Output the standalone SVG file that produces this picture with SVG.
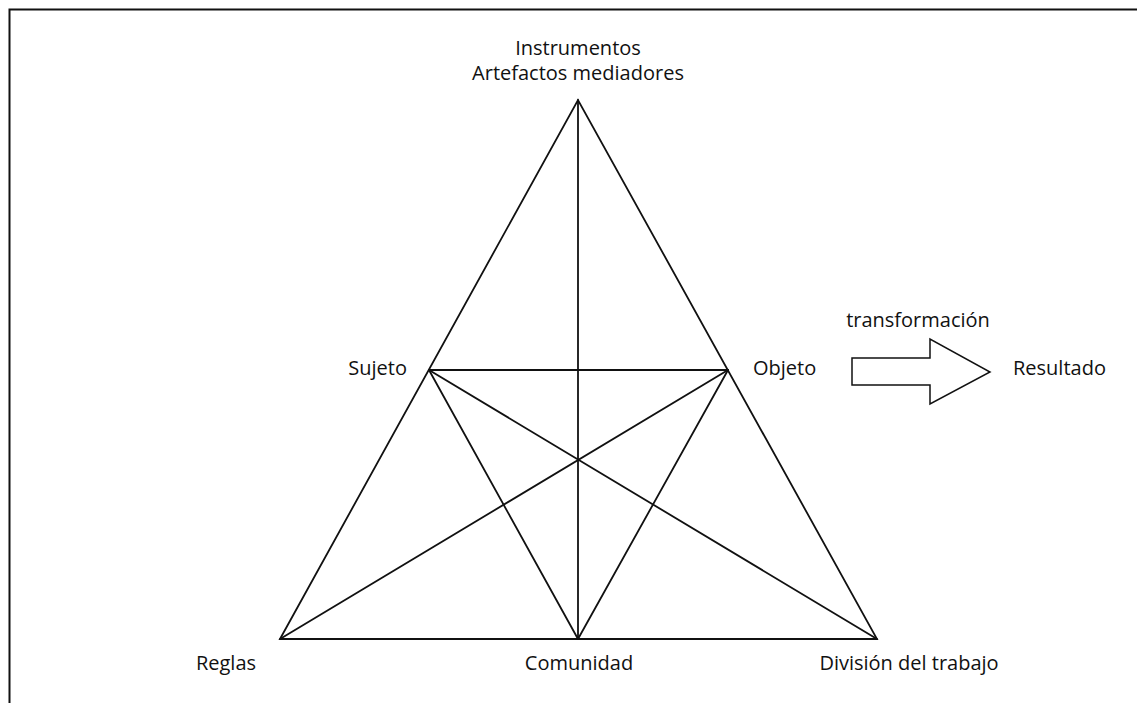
<svg xmlns="http://www.w3.org/2000/svg" width="1137" height="703" viewBox="0 0 1137 703">
<style>
.t{font-family:"Open Sans","Liberation Sans",sans-serif;font-size:20px;fill:#111}
.l{stroke:#111;stroke-width:1.8;fill:none;stroke-linecap:round}
</style>
<rect width="1137" height="703" fill="#fff"/>
<path d="M9.5,703 V9.5 H1137" fill="none" stroke="#111" stroke-width="2"/>
<g id="connectors">
<path class="l" d="M280,639 L578,100 L877,639 Z"/>
<line class="l" x1="578" y1="100" x2="578" y2="639"/>
<line class="l" x1="429" y1="370" x2="728" y2="370"/>
<line class="l" x1="429" y1="370" x2="578" y2="639"/>
<line class="l" x1="728" y1="370" x2="578" y2="639"/>
<line class="l" x1="429" y1="370" x2="877" y2="639"/>
<line class="l" x1="728" y1="370" x2="280" y2="639"/>
</g>
<g id="instrumentos"><text class="t" x="578" y="55" text-anchor="middle">Instrumentos</text><text class="t" x="578" y="80" text-anchor="middle">Artefactos mediadores</text></g>
<g id="sujeto"><text class="t" x="407" y="375" text-anchor="end">Sujeto</text></g>
<g id="objeto"><text class="t" x="753" y="375">Objeto</text></g>
<g id="reglas"><text class="t" x="226" y="670" text-anchor="middle">Reglas</text></g>
<g id="comunidad"><text class="t" x="579" y="670" text-anchor="middle">Comunidad</text></g>
<g id="division"><text class="t" x="909" y="670" text-anchor="middle">División del trabajo</text></g>
<g id="transformacion">
<path d="M852,358 H930 V339 L990,372 L930,404 V385 H852 Z" fill="#fff" stroke="#111" stroke-width="1.5" stroke-linejoin="miter"/>
<text class="t" x="918" y="327" text-anchor="middle">transformación</text>
</g>
<g id="resultado"><text class="t" x="1013" y="375">Resultado</text></g>
</svg>
